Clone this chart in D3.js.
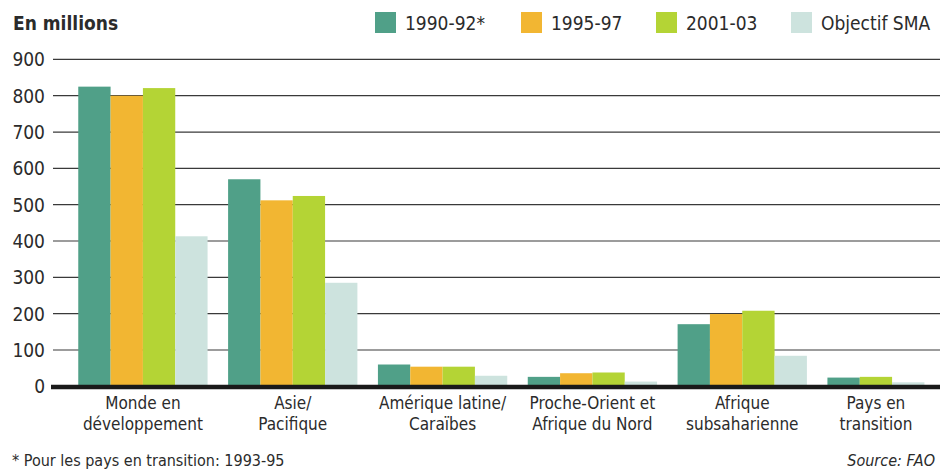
<!DOCTYPE html>
<html>
  <head>
    <meta charset="utf-8">
    <style>
      body { margin: 0; background: #fff; }
      svg text { font-family: "DejaVu Sans Condensed", "Liberation Sans Narrow", Roboto, sans-serif; fill: #2b2b2b; }
    </style>
    <script src="https://d3js.org/d3.v7.min.js"></script>
    <title>Sous-alimentation</title>
  </head>
  <body>
    <div id="chart"></div>
    <script>
    // données (millions)
    var categories = [["Monde en", "développement"], ["Asie/", "Pacifique"], ["Amérique latine/", "Caraïbes"],
                      ["Proche-Orient et", "Afrique du Nord"], ["Afrique", "subsaharienne"], ["Pays en", "transition"]]
    var series = ["1990-92*", "1995-97", "2001-03", "Objectif SMA"]
    var v1990 = [825, 570, 60, 26, 171, 24]
    var v1995 = [800, 512, 54, 36, 199, null]
    var v2001 = [821, 524, 54, 38, 208, 26]
    var vSMA = [413, 285, 29, 13, 84, 11]
    var yTicks = [0, 100, 200, 300, 400, 500, 600, 700, 800, 900]
    var colors = ["#50a088", "#f2b632", "#b4d435", "#cde3de"]

    var values = [v1990, v1995, v2001, vSMA]

    var W = 940, H = 470
    var svg = d3.select("#chart").append("svg").attr("width", W).attr("height", H)

    var y = d3.scaleLinear().domain([0, 900]).range([386.3, 59.4])
    var x = d3.scaleBand().domain(d3.range(categories.length)).range([68, 967])
      .paddingInner(0.137).paddingOuter(0.0685)
    var xs = d3.scaleBand().domain(d3.range(series.length)).range([0, x.bandwidth()])

    // grille
    svg.append("g").selectAll("line").data(yTicks.slice(1)).enter().append("line")
      .attr("x1", 53).attr("x2", 940)
      .attr("y1", function(d) { return y(d) }).attr("y2", function(d) { return y(d) })
      .attr("stroke", "#3a3a3a").attr("stroke-width", 1.2)

    svg.append("g").selectAll("text").data(yTicks).enter().append("text")
      .attr("x", 45).attr("y", function(d) { return y(d) + 7 })
      .attr("text-anchor", "end").style("font-size", "19px")
      .text(function(d) { return d })

    // barres (valeurs absentes sautées), on garde le centre des barres pour les libellés
    var centers = []
    categories.forEach(function(c, i) {
      var k = 0
      series.forEach(function(s, j) {
        var v = values[j][i]
        if (v == null) return
        svg.append("rect")
          .attr("x", x(i) + xs(k)).attr("width", xs.bandwidth())
          .attr("y", y(v)).attr("height", y(0) - y(v))
          .attr("fill", colors[j])
        k++
      })
      centers.push(x(i) + k * xs.step() / 2)
    })

    svg.append("line").attr("x1", 51).attr("x2", 940)
      .attr("y1", y(0) + 0.7).attr("y2", y(0) + 0.7)
      .attr("stroke", "#1a1a1a").attr("stroke-width", 4.5)

    // libellés des catégories
    var lab = svg.append("g").selectAll("text").data(categories).enter().append("text")
      .attr("text-anchor", "middle").style("font-size", "17px")
    lab.each(function(d, i) {
      d3.select(this).selectAll("tspan").data(d).enter().append("tspan")
        .attr("x", centers[i]).attr("y", function(t, k) { return 409 + k * 21 })
        .text(function(t) { return t })
    })

    svg.append("text").attr("x", 13).attr("y", 30).style("font-size", "19px").style("font-weight", "bold")
      .text("En millions")

    // légende
    var legX = [375, 521, 656, 791]
    var leg = svg.append("g").selectAll("g").data(series).enter().append("g")
      .attr("transform", function(d, i) { return "translate(" + legX[i] + ",12)" })
    leg.append("rect").attr("width", 21).attr("height", 21).attr("fill", function(d, i) { return colors[i] })
    leg.append("text").attr("x", 30).attr("y", 18).style("font-size", "19px").text(function(d) { return d })

    svg.append("text").attr("x", 12).attr("y", 466).style("font-size", "16px")
      .text("* Pour les pays en transition: 1993-95")
    svg.append("text").attr("x", 935).attr("y", 466).attr("text-anchor", "end")
      .style("font-size", "16px").style("font-style", "italic").text("Source: FAO")
    </script>
  </body>
</html>
